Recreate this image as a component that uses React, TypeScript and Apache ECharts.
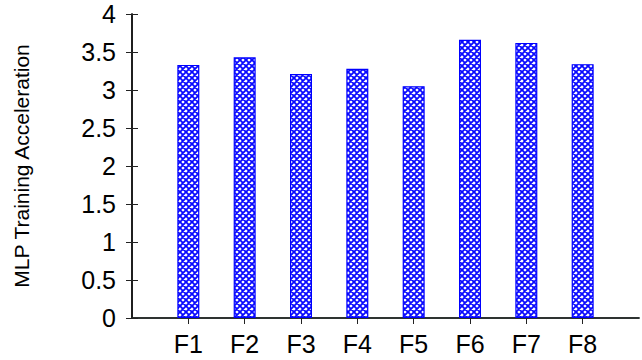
import React, { useEffect, useRef } from "react";
import * as echarts from "echarts";

const categories = ["F1", "F2", "F3", "F4", "F5", "F6", "F7", "F8"];
const values = [3.33, 3.43, 3.21, 3.28, 3.05, 3.66, 3.62, 3.34];
const yTicks = [0, 0.5, 1, 1.5, 2, 2.5, 3, 3.5, 4];

function makePattern(): HTMLCanvasElement {
  const c = document.createElement("canvas");
  c.width = 6;
  c.height = 6;
  const ctx = c.getContext("2d")!;
  ctx.fillStyle = "#ffffff";
  ctx.fillRect(0, 0, 6, 6);
  ctx.strokeStyle = "#0a0aff";
  ctx.lineWidth = 1.8;
  ctx.beginPath();
  ctx.moveTo(-1, -1);
  ctx.lineTo(7, 7);
  ctx.moveTo(7, -1);
  ctx.lineTo(-1, 7);
  ctx.moveTo(-4, 2);
  ctx.lineTo(2, -4);
  ctx.moveTo(4, 10);
  ctx.lineTo(10, 4);
  ctx.moveTo(4, -4);
  ctx.lineTo(10, 2);
  ctx.moveTo(-4, 4);
  ctx.lineTo(2, 10);
  ctx.stroke();
  return c;
}

export default function App() {
  const ref = useRef<HTMLDivElement>(null);
  useEffect(() => {
    if (!ref.current) return;
    const chart = echarts.init(ref.current, null, { renderer: "svg" });
    const font = "Liberation Sans";
    const pattern = makePattern();
    chart.setOption({
      animation: false,
      grid: { left: 132, right: 3, top: 14, bottom: 42, containLabel: false },
      xAxis: [
        {
          type: "value",
          min: 0,
          max: 9,
          interval: 1,
          position: "bottom",
          axisLine: { show: true, lineStyle: { color: "#1e3a2c", width: 1.5 } },
          axisTick: { show: false },
          splitLine: { show: false },
          axisLabel: {
            margin: 13,
            fontSize: 25,
            color: "#000",
            fontFamily: font,
            formatter: (v: number) => (v >= 1 && v <= 8 ? categories[v - 1] : ""),
          },
        },
        {
          type: "value",
          min: 0,
          max: 9,
          interval: 1,
          position: "top",
          axisLine: { show: true, lineStyle: { color: "#222", width: 1.5 } },
          axisTick: {
            show: true,
            inside: true,
            length: 6,
            lineStyle: { color: "#222" },
            customValues: [1, 2, 3, 4, 5, 6, 7, 8],
          },
          splitLine: { show: false },
          axisLabel: { show: false },
        },
      ],
      yAxis: [
        {
          type: "value",
          min: 0,
          max: 4,
          interval: 0.5,
          position: "left",
          name: "MLP Training Acceleration",
          nameLocation: "middle",
          nameGap: 100,
          nameTextStyle: {
            fontSize: 21,
            color: "#000",
            fontFamily: font,
          },
          axisLine: { show: true, lineStyle: { color: "#111", width: 1.5 } },
          axisTick: { show: true, inside: true, length: 6, lineStyle: { color: "#222" } },
          splitLine: { show: false },
          axisLabel: {
            margin: 16,
            fontSize: 25,
            color: "#000",
            fontFamily: font,
            formatter: (v: number) => (yTicks.includes(v) ? String(v) : ""),
          },
        },
        {
          type: "value",
          min: 0,
          max: 4,
          interval: 0.5,
          position: "right",
          axisLine: { show: true, lineStyle: { color: "#111", width: 1.5 } },
          axisTick: { show: true, inside: true, length: 6, lineStyle: { color: "#222" } },
          splitLine: { show: false },
          axisLabel: { show: false },
        },
      ],
      series: [
        {
          type: "bar",
          xAxisIndex: 0,
          yAxisIndex: 0,
          barWidth: 22,
          data: values.map((v, i) => [i + 1, v]),
          itemStyle: {
            color: { image: pattern, repeat: "repeat" },
            borderColor: "#0000ff",
            borderWidth: 1.2,
          },
        },
      ],
    });
    return () => chart.dispose();
  }, []);
  return <div ref={ref} style={{ width: 642, height: 360, position: "absolute", left: 0, top: 0 }} />;
}
